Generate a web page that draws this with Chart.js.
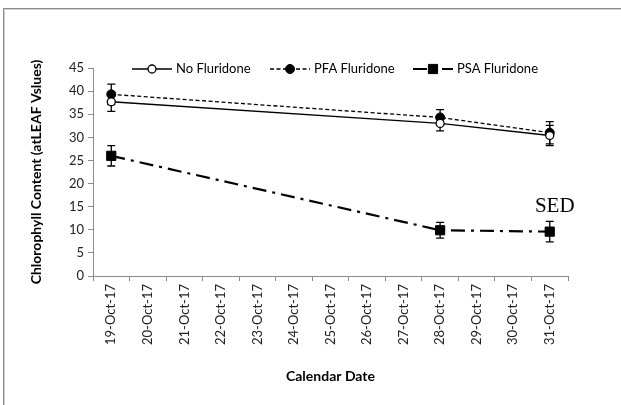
<!DOCTYPE html>
<html>
<head>
<meta charset="utf-8">
<script src="https://cdn.jsdelivr.net/npm/chart.js@4/dist/chart.umd.min.js"></script>
<style>
  html, body { margin: 0; padding: 0; background: #fff; }
  #wrap { position: relative; width: 621px; height: 405px; overflow: hidden; }
  #frame {
    position: absolute; left: 3px; top: 8px; width: 700px; height: 500px;
    border-left: 1px solid #8c8c8c; border-top: 1px solid #8c8c8c;
    box-shadow: inset 1px 1px 0 #d0d0d0;
  }
  canvas { position: absolute; left: 0; top: 0; }
</style>
</head>
<body>
<div id="wrap"><div id="frame"></div><canvas id="c" width="621" height="405"></canvas></div>
<script>
// Calendar dates on the x axis
const dates = ['19-Oct-17', '20-Oct-17', '21-Oct-17', '22-Oct-17', '23-Oct-17', '24-Oct-17',
  '25-Oct-17', '26-Oct-17', '27-Oct-17', '28-Oct-17', '29-Oct-17', '30-Oct-17', '31-Oct-17'];

// Sampling dates and chlorophyll readings (atLEAF values) with their SED
const sampleDates = ['19-Oct-17', '28-Oct-17', '31-Oct-17'];
const noFluridone = [37.7, 33.0, 30.4];
const noFluridoneSed = [2.1, 1.6, 2.2];
const pfaFluridone = [39.3, 34.3, 31.0];
const pfaFluridoneSed = [2.2, 1.7, 2.4];
const psaFluridone = [26.0, 9.9, 9.6];
const psaFluridoneSed = [2.2, 1.7, 2.2];

// y axis range
const yMin = 0, yMax = 45, yStep = 5;

const FONT = 'Lato, "Open Sans", sans-serif';

const points = (vals) => sampleDates.map((d, i) => ({ x: d, y: vals[i] }));

// Vertical SED bars with caps, drawn beneath the markers
const errorBars = {
  id: 'errorBars',
  beforeDatasetsDraw(chart) {
    const { ctx, scales: { y } } = chart;
    ctx.save();
    ctx.strokeStyle = '#000';
    ctx.lineWidth = 1.3;
    chart.data.datasets.forEach((ds, di) => {
      const meta = chart.getDatasetMeta(di);
      ds.sed.forEach((e, i) => {
        const px = meta.data[i].x;
        const v = ds.data[i].y;
        const yt = y.getPixelForValue(v + e), yb = y.getPixelForValue(v - e);
        ctx.beginPath();
        ctx.moveTo(px, yt); ctx.lineTo(px, yb);
        ctx.moveTo(px - 4, yt); ctx.lineTo(px + 4, yt);
        ctx.moveTo(px - 4, yb); ctx.lineTo(px + 4, yb);
        ctx.stroke();
      });
    });
    ctx.restore();
  }
};

// Legend row across the top of the plot, plus the SED note
const legendRow = {
  id: 'legendRow',
  afterDraw(chart) {
    const { ctx, scales: { x, y } } = chart;
    const starts = [132, 270, 413];
    const yy = 69;
    ctx.save();
    chart.data.datasets.forEach((ds, i) => {
      const x0 = starts[i];
      ctx.strokeStyle = ds.borderColor;
      ctx.lineWidth = ds.borderWidth;
      ctx.setLineDash(ds.borderDash || []);
      ctx.beginPath();
      ctx.moveTo(x0, yy); ctx.lineTo(x0 + 40, yy);
      ctx.stroke();
      ctx.setLineDash([]);
      ctx.fillStyle = ds.pointBackgroundColor;
      ctx.strokeStyle = ds.pointBorderColor;
      ctx.lineWidth = ds.pointBorderWidth;
      ctx.beginPath();
      if (ds.pointStyle === 'rect') {
        const s = ds.pointRadius * Math.SQRT1_2;
        ctx.rect(x0 + 20 - s, yy - s, 2 * s, 2 * s);
      } else {
        ctx.arc(x0 + 20, yy, ds.pointRadius, 0, Math.PI * 2);
      }
      ctx.fill(); ctx.stroke();
      ctx.fillStyle = '#000';
      ctx.font = '13px ' + FONT;
      ctx.textBaseline = 'middle';
      ctx.textAlign = 'left';
      ctx.fillText(ds.label, x0 + 44, yy);
    });
    // SED label above the last PSA reading
    ctx.font = '21px "Liberation Serif", "Times New Roman", serif';
    ctx.textAlign = 'center';
    ctx.textBaseline = 'alphabetic';
    ctx.fillStyle = '#000';
    ctx.fillText('SED', x.getPixelForValue(dates.indexOf('31-Oct-17')) + 5, y.getPixelForValue(13.8));
    ctx.restore();
  }
};

new Chart(document.getElementById('c'), {
  type: 'line',
  data: {
    labels: dates,
    datasets: [
      {
        label: 'No Fluridone', data: points(noFluridone), sed: noFluridoneSed,
        borderColor: '#000', borderWidth: 1.3,
        pointStyle: 'circle', pointRadius: 4, pointBackgroundColor: '#fff',
        pointBorderColor: '#000', pointBorderWidth: 1.3
      },
      {
        label: 'PFA Fluridone', data: points(pfaFluridone), sed: pfaFluridoneSed,
        borderColor: '#000', borderWidth: 1.3, borderDash: [4, 2.5],
        pointStyle: 'circle', pointRadius: 4.5, pointBackgroundColor: '#000',
        pointBorderColor: '#000', pointBorderWidth: 1
      },
      {
        label: 'PSA Fluridone', data: points(psaFluridone), sed: psaFluridoneSed,
        borderColor: '#000', borderWidth: 2.2, borderDash: [14, 6, 3, 6],
        pointStyle: 'rect', pointRadius: 6.5, pointBackgroundColor: '#000',
        pointBorderColor: '#000', pointBorderWidth: 1
      }
    ]
  },
  options: {
    responsive: false,
    animation: false,
    devicePixelRatio: 1,
    layout: { padding: { left: 28, top: 68, right: 53, bottom: 0 } },
    plugins: { legend: { display: false }, tooltip: { enabled: false } },
    scales: {
      x: {
        type: 'category',
        offset: true,
        grid: { offset: true, drawOnChartArea: false, drawTicks: true, tickLength: 5, color: '#8c8c8c' },
        border: { display: true, color: '#8c8c8c', width: 1 },
        ticks: { minRotation: 90, maxRotation: 90, autoSkip: false, padding: 3, color: '#222',
                 font: { family: FONT, size: 13 } },
        title: { display: true, text: 'Calendar Date', color: '#000',
                 font: { family: FONT, size: 14, weight: 'bold' }, padding: { top: 0, bottom: 20 } },
        afterFit: (s) => { s.height = 129; }
      },
      y: {
        min: yMin, max: yMax,
        grid: { drawOnChartArea: false, drawTicks: true, tickLength: 5, color: '#8c8c8c' },
        border: { display: true, color: '#8c8c8c', width: 1 },
        ticks: { stepSize: yStep, padding: 4, color: '#222', font: { family: FONT, size: 13 } },
        title: { display: true, text: 'Chlorophyll Content (atLEAF Vslues)', color: '#000',
                 font: { family: FONT, size: 14, weight: 'bold' }, padding: { top: 0, bottom: 0 } },
        afterFit: (s) => { s.width = 65; }
      }
    }
  },
  plugins: [errorBars, legendRow]
});
</script>
</body>
</html>
